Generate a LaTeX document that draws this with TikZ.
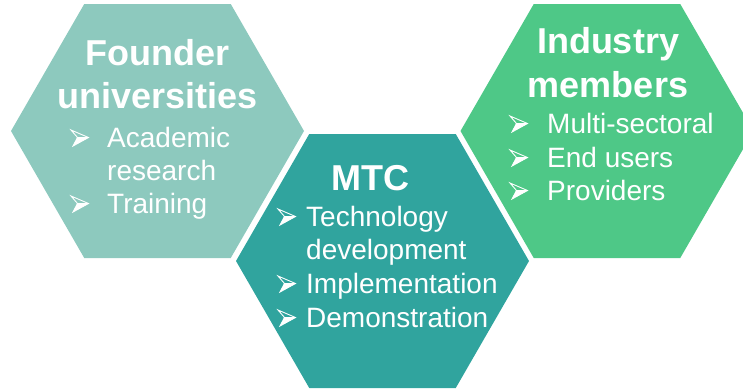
\documentclass[tikz,border=0pt]{standalone}
\usepackage{fontspec}
\setmainfont{Liberation Sans}
\definecolor{hexA}{RGB}{141,201,190}
\definecolor{hexB}{RGB}{48,164,158}
\definecolor{hexC}{RGB}{78,200,135}
\tikzset{
  hexshape/.pic={\fill[pic actions] (-146.5,0) -- (-73.25,-127) -- (73.25,-127) -- (146.5,0) -- (73.25,127) -- (-73.25,127) -- cycle;},
  bulletarrow/.pic={
    \draw[white,line width=0.9pt,line join=miter] (0,-17) -- (17.5,-9.5) -- (2,-1) -- (6.5,-9.5) -- cycle;
    \fill[white] (6.5,-9.5) -- (17.5,-9.5) -- (2,-1) -- cycle;
    \draw[white,line width=0.9pt] (6.5,-9.5) -- (17.5,-9.5);},
  ttl/.style={text=white,font=\fontsize{36}{43}\selectfont\bfseries,inner sep=0pt,anchor=base},
  itm/.style={text=white,font=\fontsize{28}{33.6}\selectfont,inner sep=0pt,anchor=base west}
}
\begin{document}
\begin{tikzpicture}[x=1pt,y=-1pt]
\useasboundingbox (0,0) rectangle (743,388);
\clip (0,0) rectangle (743,388);
\pic[hexA] at (157.5,131) {hexshape};
\pic[hexB] at (382.5,261) {hexshape};
\pic[hexC] at (607,131) {hexshape};
% left
\node[ttl] (fa) at (157.5,65) {Founder};
\node[ttl] (fb) at (157.5,108) {universities};
\pic at (71,147) {bulletarrow};
\node[itm] (fi1) at (107,147) {Academic};
\node[itm] (fi1b) at (107,180) {research};
\pic at (71,213) {bulletarrow};
\node[itm] (fi2) at (107,213) {Training};
% middle
\node[ttl] (ma) at (370,190) {MTC};
\pic at (278,226) {bulletarrow};
\node[itm] (mi1) at (306,226) {Technology};
\node[itm] (mi1b) at (306,259) {development};
\pic at (278,293) {bulletarrow};
\node[itm] (mi2) at (306,293) {Implementation};
\pic at (278,327) {bulletarrow};
\node[itm] (mi3) at (306,327) {Demonstration};
% right
\node[ttl] (ia) at (608,53) {Industry};
\node[ttl] (ib) at (608,97) {members};
\pic at (510,133) {bulletarrow};
\node[itm] (ii1) at (547,133) {Multi-sectoral};
\pic at (510,167) {bulletarrow};
\node[itm] (ii2) at (547,167) {End users};
\pic at (510,200) {bulletarrow};
\node[itm] (ii3) at (547,200) {Providers};
\end{tikzpicture}
\end{document}
